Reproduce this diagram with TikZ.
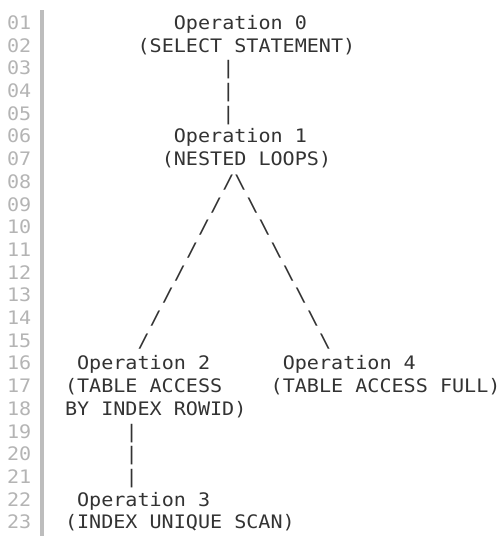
\documentclass[tikz,border=0pt]{standalone}
\usepackage{fontspec}
\setmonofont[FakeStretch=1.08]{DejaVu Sans Mono}
\definecolor{codetext}{HTML}{333333}
\definecolor{lnumgray}{HTML}{B4B4B4}
\definecolor{bargray}{HTML}{BDBDBD}
\newcommand\codefrag[4]{\node[code] (#1) at ({65+12.1*(#2)},{22.7*(#3)+6.7}) {#4};}
\begin{document}
\begin{tikzpicture}[x=1pt,y=-1pt,
  code/.style={anchor=base west, inner sep=0pt, outer sep=0pt,
    font=\ttfamily\fontsize{18.6}{20}\selectfont, text=codetext},
  lnum/.style={code, text=lnumgray}]
\useasboundingbox (0,0) rectangle (499,540);
\fill[bargray] (40,10) rectangle (44,536);
\foreach \l in {1,...,23}{
  \node[lnum] (n\l) at (7,{22.7*\l+6.7}) {\ifnum\l<10 0\fi\l};
}
\codefrag{op0}{9}{1}{Operation 0}
\codefrag{op0t}{6}{2}{(SELECT STATEMENT)}
\foreach \l in {3,4,5}{\codefrag{pa\l}{13}{\l}{|}}
\codefrag{op1}{9}{6}{Operation 1}
\codefrag{op1t}{8}{7}{(NESTED LOOPS)}
\foreach \l in {8,...,15}{
  \codefrag{ls\l}{21-\l}{\l}{/}
  \codefrag{rs\l}{\l+6}{\l}{\textbackslash}
}
\codefrag{op2}{1}{16}{Operation 2}
\codefrag{op4}{18}{16}{Operation 4}
\codefrag{op2t}{0}{17}{(TABLE ACCESS}
\codefrag{op4t}{17}{17}{(TABLE ACCESS FULL)}
\codefrag{op2u}{0}{18}{BY INDEX ROWID)}
\foreach \l in {19,20,21}{\codefrag{pb\l}{5}{\l}{|}}
\codefrag{op3}{1}{22}{Operation 3}
\codefrag{op3t}{0}{23}{(INDEX UNIQUE SCAN)}
\end{tikzpicture}
\end{document}
